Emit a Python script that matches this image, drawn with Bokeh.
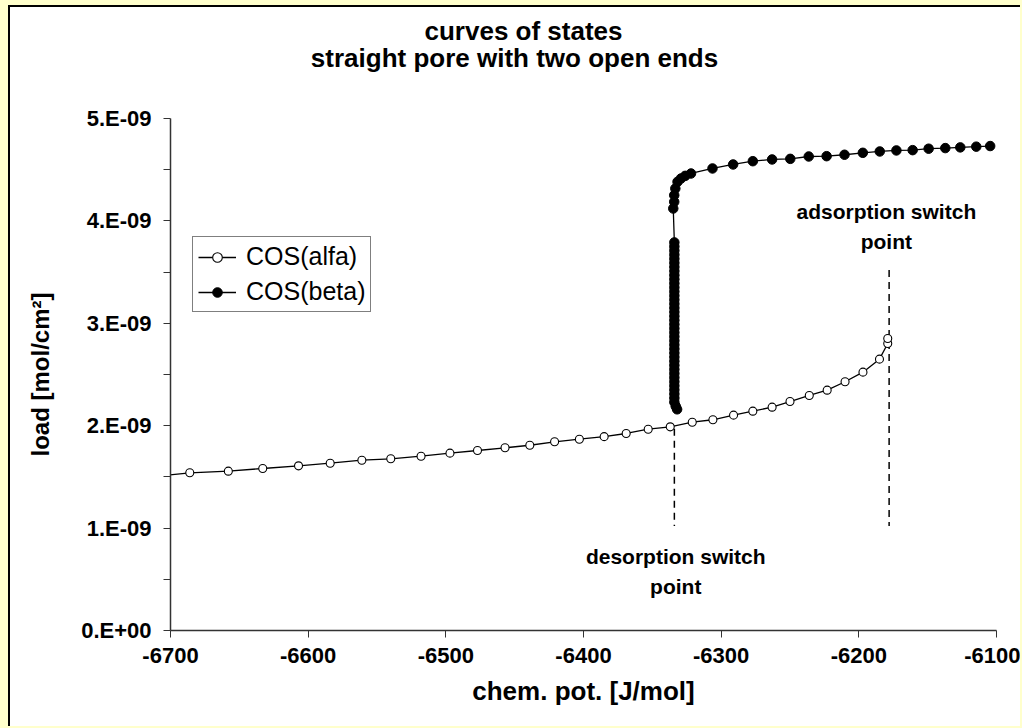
from bokeh.plotting import figure
from bokeh.models import (Range1d, FixedTicker, Label, Legend, LegendItem,
                          CustomJSTickFormatter, ColumnDataSource)
from bokeh.core.properties import value
from bokeh.layouts import column
from bokeh.embed import file_html
from bokeh.resources import INLINE

# ---------------- data (load in units of 1e-9 mol/cm2) ----------------
alfa_x = [-6712, -6686, -6658, -6633, -6607, -6584, -6561, -6540, -6518, -6497,
          -6477, -6457, -6439, -6421, -6403, -6385, -6369, -6353, -6337, -6321,
          -6306, -6291, -6277, -6263, -6250, -6236, -6223, -6210, -6197, -6185,
          -6179, -6179]
alfa_load_e9 = [1.505, 1.540, 1.556, 1.582, 1.608, 1.634, 1.663, 1.677, 1.702, 1.732,
                1.758, 1.784, 1.809, 1.843, 1.868, 1.893, 1.924, 1.966, 1.989, 2.034,
                2.058, 2.103, 2.142, 2.181, 2.236, 2.295, 2.347, 2.429, 2.523, 2.650,
                2.803, 2.852]

beta_x = [-6332, -6333, -6334, -6334, -6334, -6334, -6334, -6334, -6334, -6334,
          -6334, -6334, -6334, -6334, -6334, -6334, -6334, -6334, -6334, -6334,
          -6334, -6334, -6334, -6334, -6334, -6334, -6334, -6334, -6334, -6334,
          -6334, -6334, -6334, -6334, -6334, -6334, -6334, -6334, -6334, -6334,
          -6334, -6334,
          -6334.8, -6334.1, -6334.1, -6333.3, -6331.7, -6329.2, -6326.1, -6321.9,
          -6306.3, -6291.3, -6277.0, -6263.0, -6249.8, -6236.4, -6223.4, -6210.4,
          -6197.1, -6184.8, -6172.7, -6160.9, -6149.3, -6137.2, -6126.3, -6114.7,
          -6104.6]
beta_load_e9 = [2.16, 2.19, 2.23, 2.27, 2.31, 2.35, 2.39, 2.43, 2.47, 2.51,
                2.55, 2.59, 2.63, 2.67, 2.71, 2.75, 2.79, 2.83, 2.87, 2.91,
                2.95, 2.99, 3.03, 3.07, 3.11, 3.15, 3.19, 3.23, 3.27, 3.31,
                3.35, 3.39, 3.43, 3.47, 3.51, 3.55, 3.59, 3.63, 3.67, 3.71,
                3.75, 3.79,
                4.121, 4.186, 4.251, 4.316, 4.382, 4.414, 4.440, 4.463,
                4.512, 4.551, 4.583, 4.600, 4.606, 4.629, 4.632, 4.646,
                4.665, 4.678, 4.688, 4.691, 4.705, 4.711, 4.718, 4.725,
                4.731]

# switch point marker lines
desorption_x = [-6334, -6334]
desorption_load_e9 = [1.97, 1.02]
adsorption_x = [-6178, -6178]
adsorption_load_e9 = [3.52, 1.02]

x_ticks = [-6700, -6600, -6500, -6400, -6300, -6200, -6100]
y_ticks_e9 = [0, 1, 2, 3, 4, 5]
y_minor_e9 = [0.5, 1.5, 2.5, 3.5, 4.5]

title_lines = ["curves of states", "straight pore with two open ends"]
series_names = ["COS(alfa)", "COS(beta)"]

annot_text = ["adsorption switch", "point", "desorption switch", "point"]
annot_x = [-6180, -6180, -6333, -6333]
annot_y_e9 = [4.09, 3.80, 0.723, 0.43]

E9 = 1e-9
alfa_y = [v * E9 for v in alfa_load_e9]
beta_y = [v * E9 for v in beta_load_e9]

FONT = "Liberation Sans"
PANEL_W = 1012
BORDER_L, BORDER_R = 160, 26

# ---------------- title strip (frame aligned with the chart frame) ----------------
TITLE_H = 90
t = figure(width=PANEL_W, height=TITLE_H,
           x_range=Range1d(BORDER_L, PANEL_W - BORDER_R),   # panel pixel coords
           y_range=Range1d(0, TITLE_H), output_backend="svg",
           toolbar_location=None, min_border_left=BORDER_L,
           min_border_right=BORDER_R, min_border_top=0, min_border_bottom=0,
           x_axis_type=None, y_axis_type=None)
t.outline_line_color = None
t.grid.visible = False
t.background_fill_color = None
t.border_fill_color = None
title_src = ColumnDataSource(dict(text=title_lines, x=[513, 504], y=[67, 40]))
t.text(x="x", y="y", text="text", source=title_src, text_align="center",
       text_baseline="middle", text_font=value(FONT), text_font_style="bold",
       text_font_size="26px", text_color="black")

# ---------------- main chart ----------------
p = figure(width=PANEL_W, height=631,
           x_range=Range1d(x_ticks[0], x_ticks[-1]),
           y_range=Range1d(0, y_ticks_e9[-1] * E9),
           output_backend="svg", toolbar_location=None,
           min_border_left=BORDER_L, min_border_right=BORDER_R,
           min_border_top=23, min_border_bottom=96)
p.outline_line_color = None
p.grid.visible = False
p.background_fill_color = None
p.border_fill_color = None

p.xaxis.ticker = FixedTicker(ticks=x_ticks, minor_ticks=[])
p.yaxis.ticker = FixedTicker(ticks=[v * E9 for v in y_ticks_e9],
                             minor_ticks=[v * E9 for v in y_minor_e9])
p.xaxis.formatter = CustomJSTickFormatter(code="return tick.toFixed(0);")
p.yaxis.formatter = CustomJSTickFormatter(code="""
    const m = Math.round(tick * 1e9);
    return m === 0 ? "0.E+00" : m + ".E-09";
""")
for ax in (p.xaxis[0], p.yaxis[0]):
    ax.axis_line_color = "#333333"
    ax.axis_line_width = 1.5
    ax.major_tick_line_color = "#333333"
    ax.minor_tick_line_color = "#333333"
    ax.major_tick_in = 0
    ax.major_tick_out = 7
    ax.minor_tick_in = 0
    ax.minor_tick_out = 7
    ax.major_label_text_font = FONT
    ax.major_label_text_font_style = "bold"
    ax.major_label_text_font_size = "22px"
    ax.major_label_text_color = "black"
    ax.axis_label_text_font = FONT
    ax.axis_label_text_font_style = "bold"
    ax.axis_label_text_color = "black"
p.xaxis.axis_label = "chem. pot. [J/mol]"
p.yaxis.axis_label = "load [mol/cm²]"
p.xaxis.axis_label_text_font_size = "26px"
p.yaxis.axis_label_text_font_size = "24px"
p.xaxis.major_label_standoff = 10
p.yaxis.major_label_standoff = 12
p.xaxis.axis_label_standoff = 10
p.yaxis.axis_label_standoff = 24

# dashed switch lines
p.line(desorption_x, [v * E9 for v in desorption_load_e9], line_color="black",
       line_width=1.5, line_dash="7 5")
p.line(adsorption_x, [v * E9 for v in adsorption_load_e9], line_color="black",
       line_width=1.5, line_dash="7 5")

# series
la = p.line(alfa_x, alfa_y, line_color="black", line_width=1.3)
sa = p.scatter(alfa_x, alfa_y, marker="circle", size=8, fill_color="white",
               line_color="black", line_width=1.1)
lb = p.line(beta_x, beta_y, line_color="black", line_width=1.3)
sb = p.scatter(beta_x, beta_y, marker="circle", size=9.5, fill_color="black",
               line_color="black", line_width=1)

legend = Legend(items=[LegendItem(label=series_names[0], renderers=[la, sa]),
                       LegendItem(label=series_names[1], renderers=[lb, sb])],
                location=(22, 318))
legend.border_line_color = "black"
legend.border_line_width = 1
legend.background_fill_color = "white"
legend.background_fill_alpha = 1
legend.label_text_font = FONT
legend.label_text_font_size = "25px"
legend.label_text_color = "black"
legend.glyph_width = 38
legend.glyph_height = 24
legend.label_height = 24
legend.spacing = 6
legend.padding = 5
legend.margin = 0
legend.label_standoff = 10
p.add_layout(legend)

# switch point annotations
for txt, xx, yy in zip(annot_text, annot_x, annot_y_e9):
    p.add_layout(Label(x=xx, y=yy * E9, text=txt, text_align="center",
                       text_baseline="middle", text_font=FONT,
                       text_font_style="bold", text_font_size="21px",
                       text_color="black"))

t.styles = {"border-left": "2px solid black", "border-top": "2px solid black",
            "background-color": "white"}
p.styles = {"border-left": "2px solid black", "background-color": "white"}
lay = column(t, p, width=1022, height=728, spacing=0,
             styles={"background-color": "#FFFFCC", "padding": "5px 0px 0px 8px",
                     "box-sizing": "border-box"})

open("out.html", "w").write(file_html(lay, INLINE))
